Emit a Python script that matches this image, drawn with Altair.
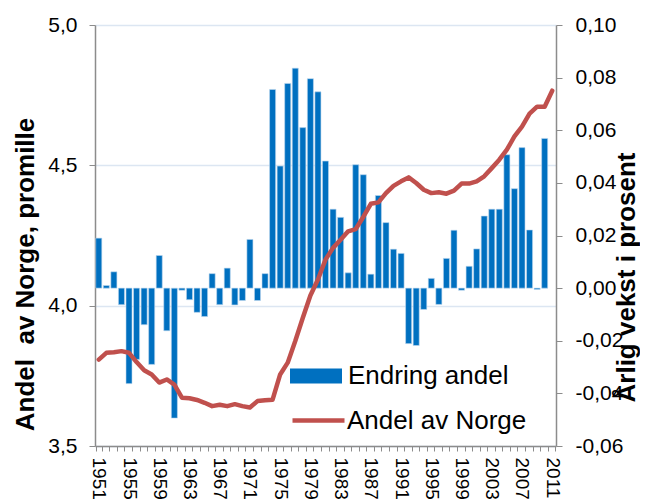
import altair as alt
import pandas as pd

years = [str(y) for y in range(1951, 2012)]

growth = [0.019, 0.001, 0.0062, -0.0063, -0.0363, -0.0271, -0.0139, -0.029, 0.0124, -0.0162,
          -0.0494, -0.0008, -0.0044, -0.0092, -0.0108, 0.0055, -0.0063, 0.0076, -0.0064, -0.0047,
          0.0185, -0.0047, 0.0055, 0.0755, 0.0464, 0.0778, 0.0836, 0.061, 0.0796, 0.0746,
          0.0483, 0.030, 0.0269, 0.0058, 0.0469, 0.0431, 0.0053, 0.0352, 0.0249, 0.0148,
          0.0132, -0.0211, -0.0218, -0.0081, 0.0037, -0.0062, 0.0113, 0.022, -0.0008, 0.0083,
          0.0149, 0.0274, 0.030, 0.030, 0.0507, 0.0378, 0.0534, 0.0221, -0.0005, 0.0569, None]

share = [3.808, 3.832, 3.834, 3.838, 3.832, 3.799, 3.770, 3.755, 3.726, 3.737,
         3.719, 3.672, 3.670, 3.664, 3.654, 3.642, 3.647, 3.642, 3.649, 3.642,
         3.637, 3.660, 3.663, 3.665, 3.755, 3.797, 3.874, 3.957, 4.036, 4.093,
         4.164, 4.206, 4.235, 4.265, 4.273, 4.316, 4.363, 4.368, 4.401, 4.427,
         4.443, 4.457, 4.437, 4.413, 4.401, 4.404, 4.399, 4.410, 4.435, 4.435,
         4.443, 4.461, 4.490, 4.520, 4.556, 4.603, 4.638, 4.684, 4.709, 4.709, 4.766]

bar_name = "Endring andel"
line_name = "Andel av Norge"
left_title = "Andel \u00a0av Norge, promille"
right_title = "Årlig vekst i prosent"

df = pd.DataFrame({"year": years, "growth": growth, "share": share})
df["bar_series"] = bar_name
df["line_series"] = line_name

FONT = "Liberation Sans"
GRAY = "#8c8c8c"
BLUE = "#0070C0"
RED = "#C0504D"

x_enc = alt.X(
    "year:O",
    sort=years,
    scale=alt.Scale(paddingInner=0.2, paddingOuter=0.1),
    axis=alt.Axis(
        title=None,
        labelAngle=90,
        labelFontSize=19,
        labelColor="black",
        labelPadding=6,
        labelExpr="(toNumber(datum.value) - 1951) % 4 == 0 ? datum.value : ''",
        tickBand="extent",
        tickSize=5,
        tickColor=GRAY,
        domainColor=GRAY,
        domainWidth=1.5,
        labelOverlap=False,
    ),
)

bars = alt.Chart(df).mark_bar(stroke="#BDD7EE", strokeWidth=0.6).encode(
    x=x_enc,
    y=alt.Y(
        "growth:Q",
        scale=alt.Scale(domain=[-0.06, 0.10], nice=False, zero=True),
        axis=alt.Axis(
            orient="right",
            title=right_title,
            titleFontSize=26,
            titleFontWeight="bold",
            titleAngle=270,
            titleAlign="center",
            titleBaseline="middle",
            titleX=70,
            titleY=252,
            values=[-0.06, -0.04, -0.02, 0.0, 0.02, 0.04, 0.06, 0.08, 0.10],
            labelExpr="replace(replace(format(datum.value, '.2f'), '.', ','), '\u2212', '-')",
            labelFontSize=21,
            labelColor="black",
            labelPadding=13,
            tickSize=6,
            tickColor=GRAY,
            domainColor=GRAY,
            domainWidth=1.5,
            grid=False,
        ),
    ),
    color=alt.Color(
        "bar_series:N",
        scale=alt.Scale(domain=[bar_name], range=[BLUE]),
        legend=alt.Legend(
            title=None,
            orient="none",
            legendX=195,
            legendY=325,
            symbolType="M-1,-0.29L1,-0.29L1,0.29L-1,0.29Z",
            symbolSize=2704,
            symbolStrokeWidth=0,
            labelFontSize=26,
            labelColor="black",
            labelOffset=6,
            labelLimit=300,
        ),
    ),
)

line = alt.Chart(df).mark_line(strokeWidth=4.5, strokeCap="round", strokeJoin="round").encode(
    x=x_enc,
    y=alt.Y(
        "share:Q",
        scale=alt.Scale(domain=[3.5, 5.0], nice=False, zero=False),
        axis=alt.Axis(
            orient="left",
            title=left_title,
            titleFontSize=26,
            titleFontWeight="bold",
            titleAngle=270,
            titleAlign="center",
            titleBaseline="middle",
            titleX=-70,
            titleY=249,
            values=[3.5, 4.0, 4.5, 5.0],
            labelExpr="replace(format(datum.value, '.1f'), '.', ',')",
            labelFontSize=21,
            labelColor="black",
            labelPadding=12,
            tickSize=6,
            tickColor=GRAY,
            domainColor=GRAY,
            domainWidth=1.5,
            grid=True,
            gridColor="#DCE6F2",
            gridWidth=1.5,
        ),
    ),
    color=alt.Color(
        "line_series:N",
        scale=alt.Scale(domain=[line_name], range=[RED]),
        legend=alt.Legend(
            title=None,
            orient="none",
            legendX=195,
            legendY=367,
            symbolType="stroke",
            symbolSize=2704,
            symbolStrokeWidth=4.5,
            labelFontSize=26,
            labelColor="black",
            labelOffset=0,
            labelLimit=300,
        ),
    ),
)

chart = (
    alt.layer(bars, line)
    .resolve_scale(y="independent", color="independent")
    .properties(
        width=461,
        height=421,
        autosize=alt.AutoSizeParams(type="none"),
        padding={"left": 87, "top": 17, "right": 84, "bottom": 56},
    )
    .configure(font=FONT)
    .configure_view(stroke=None)
)

chart.save("out.html", embed_options={"renderer": "svg", "actions": False})
